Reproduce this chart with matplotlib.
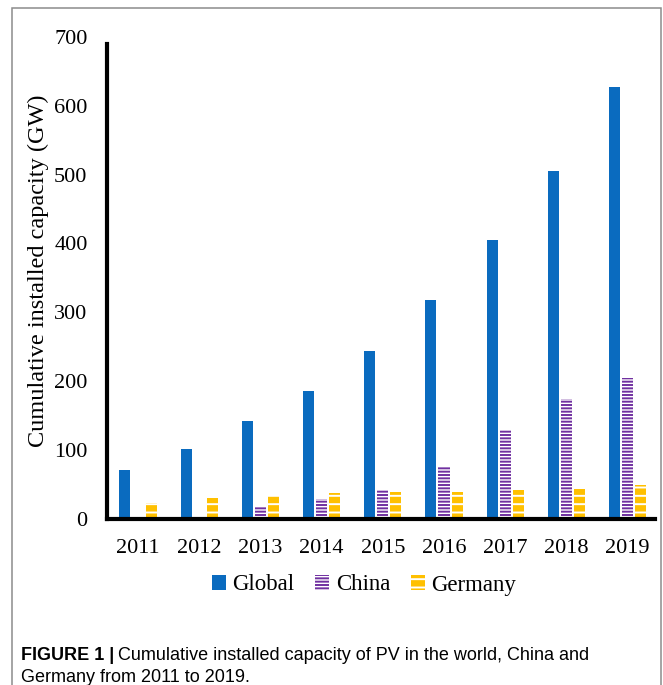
import matplotlib
matplotlib.use("Agg")
import matplotlib.pyplot as plt
from matplotlib.patches import Rectangle
import numpy as np

years = ["2011", "2012", "2013", "2014", "2015", "2016", "2017", "2018", "2019"]
global_gw = [70, 101, 142, 186, 243, 317, 405, 505, 627]
china_gw = [0, 0, 16, 28, 42, 76, 129, 174, 204]
germany_gw = [22, 30, 33, 37, 38, 39, 41, 43, 48]
series_names = ["Global", "China", "Germany"]
y_ticks = [0, 100, 200, 300, 400, 500, 600, 700]

W, H = 663, 685
plt.rcParams["hatch.linewidth"] = 1.4
serif = ["Liberation Serif", "DejaVu Serif"]
sans = ["Liberation Sans Narrow", "Liberation Sans", "DejaVu Sans"]

fig = plt.figure(figsize=(W / 100, H / 100), dpi=100)
ax = fig.add_axes([107 / W, 1 - 518.5 / H, 548 / W, 481.5 / H])

x = np.arange(len(years))
bw = 0.18
step = 0.213
ax.bar(x - step, global_gw, bw, color="#0A6BBF", linewidth=0, label=series_names[0])
ax.bar(x, china_gw, bw, facecolor="white", edgecolor="#7030A0", linewidth=0,
       hatch="-----", label=series_names[1])
ax.bar(x + step, germany_gw, bw, facecolor="#FFC000", edgecolor="white", linewidth=0,
       hatch="--", label=series_names[2])

ax.set_xlim(-0.507, 8.448)
ax.set_ylim(0, 700)
ax.set_yticks(y_ticks)
ax.set_xticks(x)
ax.set_xticklabels(years)
for s in ["top", "right"]:
    ax.spines[s].set_visible(False)
for s in ["left", "bottom"]:
    ax.spines[s].set_linewidth(3)
    ax.spines[s].set_color("black")
ax.spines["left"].set_bounds(0, 690)
ax.tick_params(axis="both", length=0, labelsize=16)
ax.tick_params(axis="y", pad=14)
ax.tick_params(axis="x", pad=15)
for lab in ax.get_xticklabels() + ax.get_yticklabels():
    lab.set_fontfamily(serif)

fig.text(38 / W, 1 - 271 / H, "Cumulative installed capacity (GW)", rotation=90,
         ha="center", va="center", fontsize=17.5, family=serif)

leg = fig.legend(loc="center", bbox_to_anchor=(364 / W, 1 - 585 / H), ncol=3,
                 frameon=False, handlelength=0.6, handleheight=0.6,
                 handletextpad=0.3, columnspacing=0.9,
                 prop={"family": serif, "size": 16.5})

# outer frame running off the bottom of the page
fig.patches.append(Rectangle((12 / W, -0.05), 649 / W, 1.05 - 8 / H,
                             transform=fig.transFigure, fill=False,
                             edgecolor="#8c8c8c", linewidth=1.1))

# caption
bold = fig.text(21 / W, 1 - 660 / H, "FIGURE 1 |", fontsize=13, fontweight="bold",
                family=sans, va="baseline")
fig.canvas.draw()
bb = bold.get_window_extent(fig.canvas.get_renderer())
fig.text(bb.x1 / W + 4 / W, 1 - 660 / H,
         "Cumulative installed capacity of PV in the world, China and",
         fontsize=13, family=sans, va="baseline")
fig.text(21 / W, 1 - 682 / H, "Germany from 2011 to 2019.", fontsize=13,
         family=sans, va="baseline")

fig.savefig("out.png", dpi=100)
